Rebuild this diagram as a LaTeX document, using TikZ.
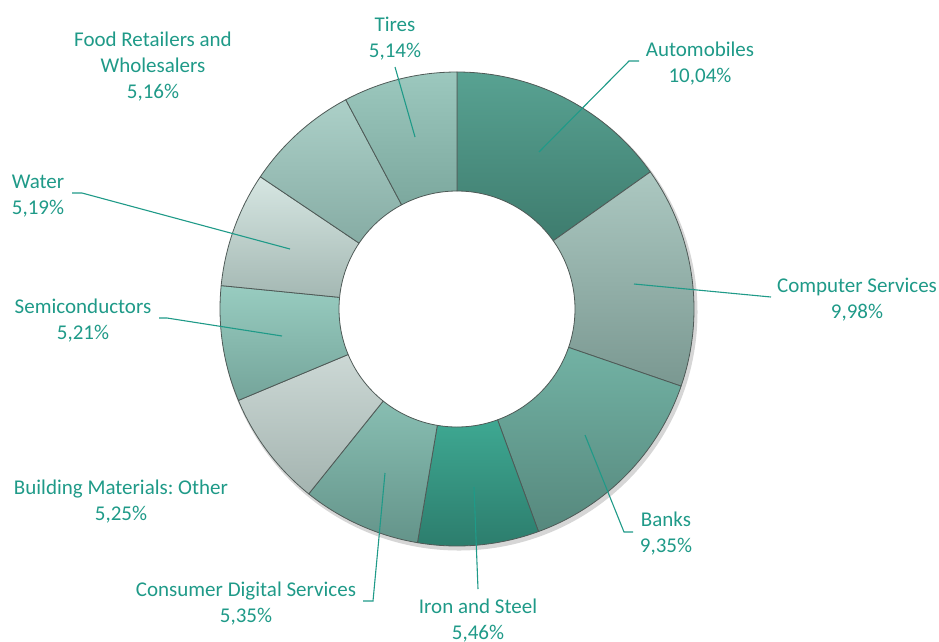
\documentclass[tikz,border=0pt]{standalone}
\usepackage{fontspec}
\setmainfont{Carlito}
\usepackage{xcolor}
\definecolor{lbltext}{HTML}{1F9A88}
\definecolor{edgegray}{HTML}{4F5A57}
\frenchspacing
\begin{document}
\begin{tikzpicture}[x=1pt, y=1pt,
    slice/.style={draw=edgegray, line width=0.8pt, line join=round},
    lbl/.style={text=lbltext, align=center, anchor=base, inner sep=0pt,
      font=\fontsize{21}{26}\selectfont},
    leader/.style={draw=lbltext, line width=1.1pt}]
  \useasboundingbox (0,0) rectangle (939,-641);
  \coordinate (c) at (457,-309);

  % soft shadow under the ring
  \fill[black!16, even odd rule] (459,-312) circle (238.5) circle (124);

  % slices, clockwise from the top
  \begin{scope}[shift={(c)}]
    \draw[slice, top color={rgb,255:red,88;green,162;blue,146}, bottom color={rgb,255:red,62;green,124;blue,110}]
      (90:237) arc[start angle=90, end angle=35.34, radius=237] -- (35.34:118) arc[start angle=35.34, end angle=90, radius=118] -- cycle;
    \draw[slice, top color={rgb,255:red,172;green,200;blue,193}, bottom color={rgb,255:red,122;green,152;blue,145}]
      (35.34:237) arc[start angle=35.34, end angle=-18.99, radius=237] -- (-18.99:118) arc[start angle=-18.99, end angle=35.34, radius=118] -- cycle;
    \draw[slice, top color={rgb,255:red,114;green,178;blue,164}, bottom color={rgb,255:red,86;green,136;blue,125}]
      (-18.99:237) arc[start angle=-18.99, end angle=-69.89, radius=237] -- (-69.89:118) arc[start angle=-69.89, end angle=-18.99, radius=118] -- cycle;
    \draw[slice, top color={rgb,255:red,62;green,168;blue,146}, bottom color={rgb,255:red,44;green,124;blue,108}]
      (-69.89:237) arc[start angle=-69.89, end angle=-99.61, radius=237] -- (-99.61:118) arc[start angle=-99.61, end angle=-69.89, radius=118] -- cycle;
    \draw[slice, top color={rgb,255:red,136;green,190;blue,178}, bottom color={rgb,255:red,100;green,148;blue,138}]
      (-99.61:237) arc[start angle=-99.61, end angle=-128.73, radius=237] -- (-128.73:118) arc[start angle=-128.73, end angle=-99.61, radius=118] -- cycle;
    \draw[slice, top color={rgb,255:red,204;green,216;blue,213}, bottom color={rgb,255:red,164;green,180;blue,176}]
      (-128.73:237) arc[start angle=-128.73, end angle=-157.31, radius=237] -- (-157.31:118) arc[start angle=-157.31, end angle=-128.73, radius=118] -- cycle;
    \draw[slice, top color={rgb,255:red,152;green,204;blue,192}, bottom color={rgb,255:red,116;green,164;blue,154}]
      (-157.31:237) arc[start angle=-157.31, end angle=-185.67, radius=237] -- (-185.67:118) arc[start angle=-185.67, end angle=-157.31, radius=118] -- cycle;
    \draw[slice, top color={rgb,255:red,214;green,230;blue,226}, bottom color={rgb,255:red,164;green,184;blue,179}]
      (-185.67:237) arc[start angle=-185.67, end angle=-213.92, radius=237] -- (-213.92:118) arc[start angle=-213.92, end angle=-185.67, radius=118] -- cycle;
    \draw[slice, top color={rgb,255:red,172;green,208;blue,200}, bottom color={rgb,255:red,134;green,172;blue,164}]
      (-213.92:237) arc[start angle=-213.92, end angle=-242.01, radius=237] -- (-242.01:118) arc[start angle=-242.01, end angle=-213.92, radius=118] -- cycle;
    \draw[slice, top color={rgb,255:red,156;green,200;blue,190}, bottom color={rgb,255:red,124;green,168;blue,158}]
      (-242.01:237) arc[start angle=-242.01, end angle=-270, radius=237] -- (-270:118) arc[start angle=-270, end angle=-242.01, radius=118] -- cycle;
  \end{scope}

  % labels (placed by the baseline of their last line)
  \node[lbl] (autos) at (700,-82) {Automobiles\\10,04\%};
  \node[lbl] (compsrv) at (857,-318) {Computer Services\\9,98\%};
  \node[lbl] (banks) at (666,-552) {Banks\\9,35\%};
  \node[lbl] (iron) at (478,-639) {Iron and Steel\\5,46\%};
  \node[lbl] (consdig) at (246,-622) {Consumer Digital Services\\5,35\%};
  \node[lbl] (buildmat) at (121,-520) {Building Materials: Other\\5,25\%};
  \node[lbl] (semis) at (83,-339) {Semiconductors\\5,21\%};
  \node[lbl] (water) at (38,-214) {Water\\5,19\%};
  \node[lbl] (food) at (153,-98) {Food Retailers and\\Wholesalers\\5,16\%};
  \node[lbl] (tires) at (395,-57) {Tires\\5,14\%};

  % leader line ends
  \coordinate (autos-a) at (639,-61);
  \coordinate (autos-b) at (629,-61);
  \coordinate (autos-p) at (539,-152);
  \coordinate (compsrv-a) at (771,-297);
  \coordinate (compsrv-p) at (634,-284);
  \coordinate (banks-a) at (633,-532);
  \coordinate (banks-b) at (624,-532);
  \coordinate (banks-p) at (585,-435);
  \coordinate (iron-a) at (478,-589);
  \coordinate (iron-p) at (474,-487);
  \coordinate (consdig-a) at (363,-601);
  \coordinate (consdig-b) at (373,-601);
  \coordinate (consdig-p) at (385,-473);
  \coordinate (semis-a) at (159,-318);
  \coordinate (semis-b) at (167,-318);
  \coordinate (semis-p) at (282,-336);
  \coordinate (water-a) at (72,-193);
  \coordinate (water-b) at (82,-193);
  \coordinate (water-p) at (290,-249);
  \coordinate (tires-a) at (395,-67);
  \coordinate (tires-p) at (415,-137);

  \draw[leader] (autos-a) -- (autos-b) -- (autos-p);
  \draw[leader] (compsrv-a) -- (compsrv-p);
  \draw[leader] (banks-a) -- (banks-b) -- (banks-p);
  \draw[leader] (iron-a) -- (iron-p);
  \draw[leader] (consdig-a) -- (consdig-b) -- (consdig-p);
  \draw[leader] (semis-a) -- (semis-b) -- (semis-p);
  \draw[leader] (water-a) -- (water-b) -- (water-p);
  \draw[leader] (tires-a) -- (tires-p);
\end{tikzpicture}
\end{document}
